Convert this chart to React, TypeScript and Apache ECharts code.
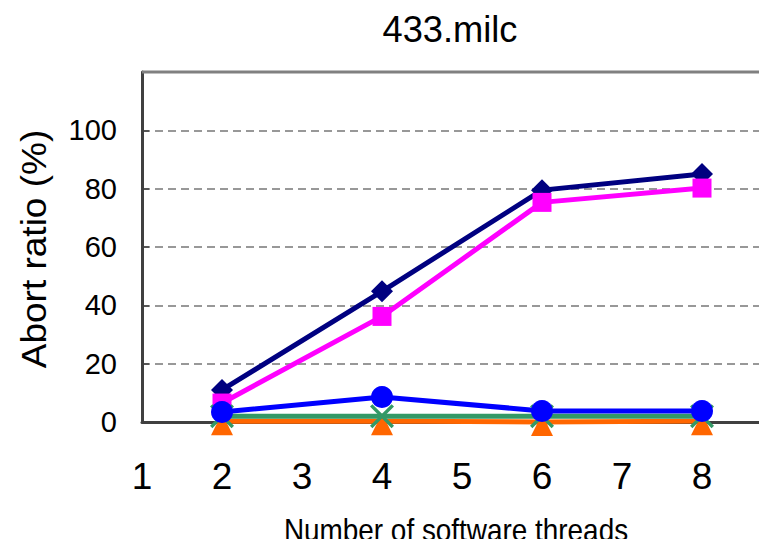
import React, { useEffect, useRef } from "react";
import * as echarts from "echarts";

const threads = [2, 4, 6, 8];
const navySeries = [11, 44.8, 79.5, 85];
const magentaSeries = [6.5, 36.2, 75.3, 80.2];
const blueSeries = [3.4, 8.6, 3.8, 3.8];
const greenSeries = [2, 2, 2, 2];
const orangeSeries = [0.3, 0.3, 0, 0.3];
const yTicks = [0, 20, 40, 60, 80, 100];
const xTickLabels = [1, 2, 3, 4, 5, 6, 7, 8];

const xPath = "path://M0,2L2,0L10,8L18,0L20,2L12,10L20,18L18,20L10,12L2,20L0,18L8,10Z";

function pts(vals: number[]) {
  return threads.map((t, i) => [t, vals[i]]);
}

export default function App() {
  const ref = useRef<HTMLDivElement>(null);
  useEffect(() => {
    const chart = echarts.init(ref.current!, undefined, { renderer: "svg" });
    const font = "Liberation Sans";
    const mk = (name: string, vals: number[], color: string, symbol: string, size: number, extra: any = {}) => ({
      name,
      type: "line",
      data: pts(vals),
      symbol,
      symbolSize: size,
      clip: false,
      lineStyle: { color, width: 5 },
      itemStyle: { color },
      ...extra,
    });
    const txt = (x: number, y: number, text: string, size: number, rot = 0, sx = 1) => ({
      type: "text",
      x,
      y,
      rotation: rot,
      scaleX: rot ? 1 : sx,
      scaleY: rot ? sx : 1,
      style: { text, fontSize: size, fontFamily: font, fill: "#000", align: "center", verticalAlign: "middle" },
    });
    chart.setOption({
      animation: false,
      textStyle: { fontFamily: font },
      grid: { left: 142, top: 72, bottom: 125, right: -15, containLabel: false, outerBoundsMode: "none" },
      graphic: [
        txt(450, 29, "433.milc", 37, 0, 0.98),
        txt(456, 530, "Number of software threads", 31, 0, 0.9),
        txt(34, 249, "Abort ratio (%)", 37, Math.PI / 2, 0.95),
        { type: "line", z: 5, shape: { x1: 142, y1: 72, x2: 767, y2: 72 }, style: { stroke: "#808080", lineWidth: 3 } },
      ],
      xAxis: {
        type: "value",
        min: 1,
        max: 9,
        interval: 1,
        axisLine: { lineStyle: { color: "#404040", width: 3 } },
        axisTick: { show: false },
        splitLine: { show: false },
        axisLabel: {
          fontSize: 37,
          color: "#000",
          margin: 36,
          fontFamily: font,
          formatter: (v: number) => (xTickLabels.includes(v) ? String(v) : ""),
        },
      },
      yAxis: {
        type: "value",
        min: 0,
        max: 120,
        interval: 20,
        axisLine: { show: true, lineStyle: { color: "#404040", width: 3 } },
        axisTick: { show: true, inside: true, length: 7, lineStyle: { color: "#404040", width: 1.5 } },
        splitLine: { show: true, lineStyle: { color: "#777777", type: [8, 5], width: 1.5 } },
        axisLabel: { fontSize: 29, color: "#000", margin: 25, fontFamily: font, formatter: (v: number) => (yTicks.includes(v) ? String(v) : "") },
      },
      series: [
        mk("navy", navySeries, "#000080", "diamond", 22),
        mk("magenta", magentaSeries, "#FF00FF", "rect", 19),
        mk("orange", orangeSeries, "#FF6600", "triangle", 22, { symbolOffset: [0, 3] }),
        mk("green", greenSeries, "#339966", xPath, 24),
        mk("blue", blueSeries, "#0000FF", "circle", 22),
      ],
    });
    return () => chart.dispose();
  }, []);
  return <div ref={ref} style={{ width: 767, height: 547, margin: -8 }} />;
}
